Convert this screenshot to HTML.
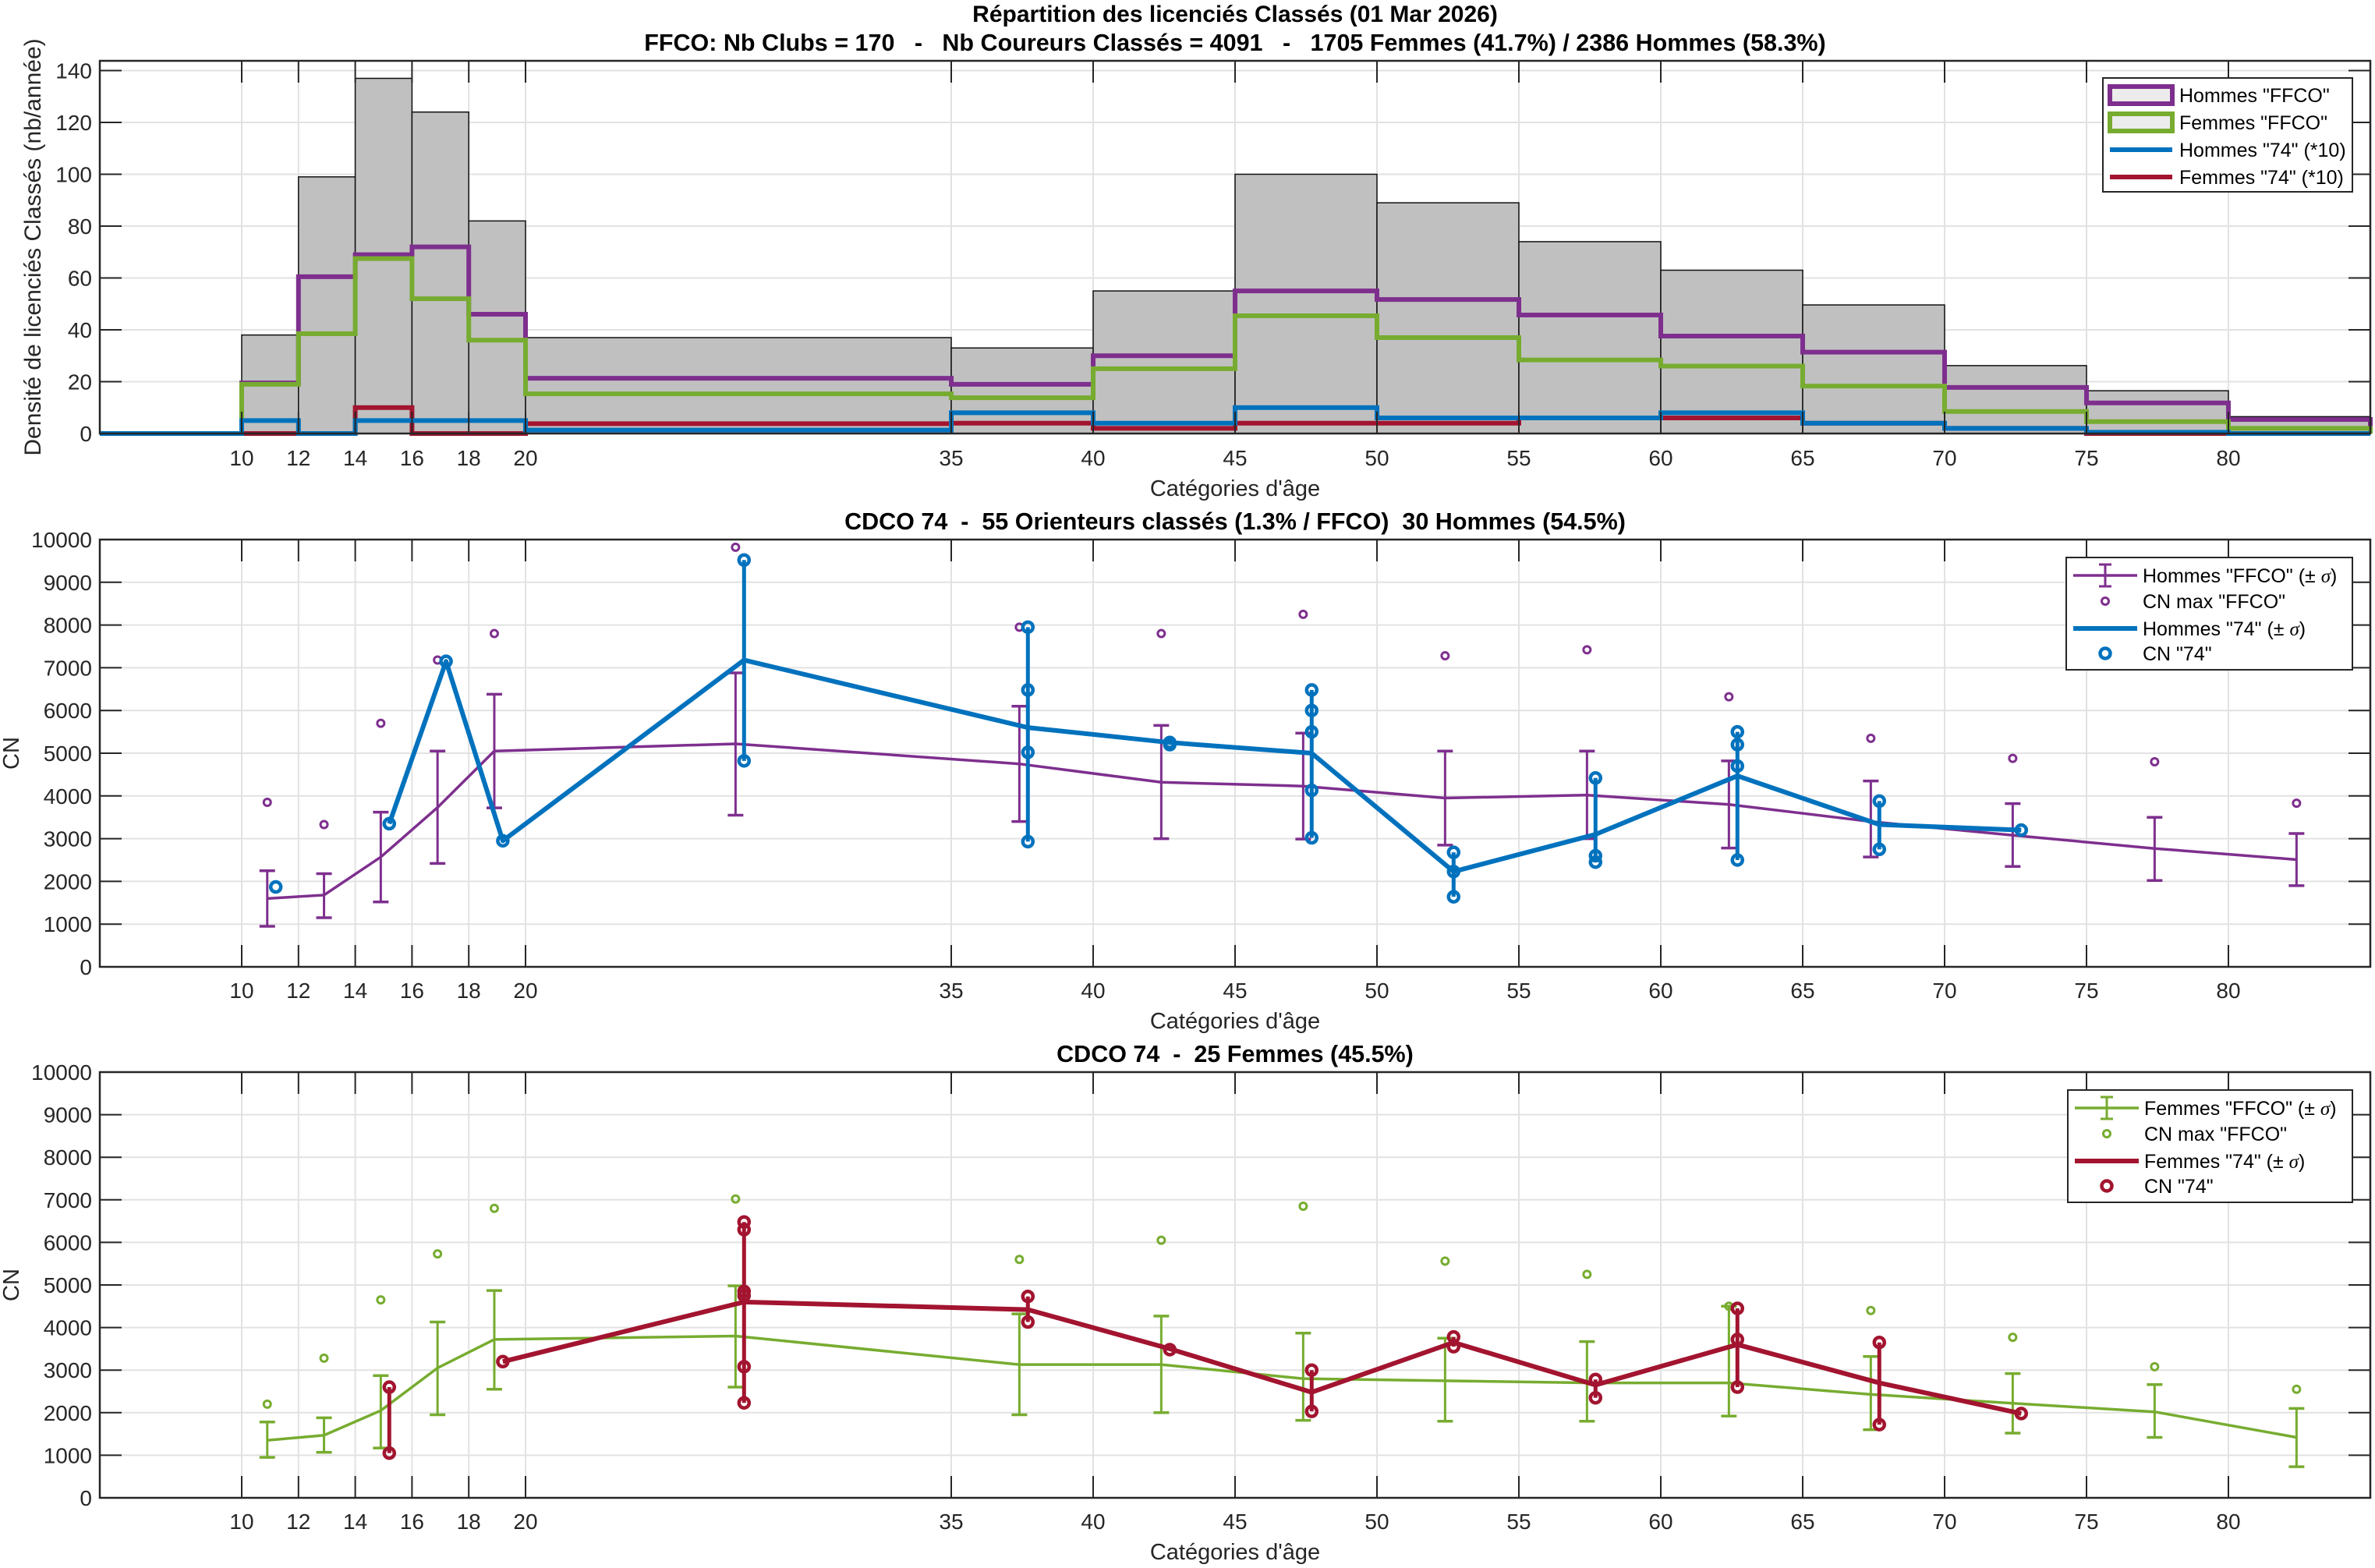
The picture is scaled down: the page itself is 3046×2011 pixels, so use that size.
<!DOCTYPE html>
<html><head><meta charset="utf-8">
<style>
html,body{margin:0;padding:0;background:#fff;}
svg{display:block;font-family:"Liberation Sans",sans-serif;}
</style></head>
<body>
<svg id="s" width="3046" height="2011" viewBox="0 0 3046 2011" xmlns="http://www.w3.org/2000/svg"></svg>
<script>
const S=document.getElementById('s');
let out='';
const L=128,R=3040;
const X=a=>L+(a-5)*36.4;
const P='#7E2F8E',G='#77AC30',B='#0072BD',RD='#A2142F';
const xt=[10,12,14,16,18,20,35,40,45,50,55,60,65,70,75,80];
function axes(T,Bt,yt,yf){
  xt.forEach(a=>{out+=`<line x1="${X(a)}" y1="${T}" x2="${X(a)}" y2="${Bt}" stroke="#e2e2e2" stroke-width="2"/>`;});
  yt.forEach(v=>{out+=`<line x1="${L}" y1="${yf(v)}" x2="${R}" y2="${yf(v)}" stroke="#e2e2e2" stroke-width="2"/>`;});
}
function frame(T,Bt,yt,yf,labY,xlabY){
  xt.forEach(a=>{const x=X(a);out+=`<line x1="${x}" y1="${T}" x2="${x}" y2="${T+28}" stroke="#262626" stroke-width="2"/><line x1="${x}" y1="${Bt}" x2="${x}" y2="${Bt-28}" stroke="#262626" stroke-width="2"/>`;
    out+=`<text x="${x}" y="${labY}" font-size="28" text-anchor="middle" fill="#262626">${a}</text>`;});
  yt.forEach(v=>{const y=yf(v);out+=`<line x1="${L}" y1="${y}" x2="${L+28}" y2="${y}" stroke="#262626" stroke-width="2"/><line x1="${R}" y1="${y}" x2="${R-28}" y2="${y}" stroke="#262626" stroke-width="2"/>`;
    out+=`<text x="118" y="${y+10}" font-size="28" text-anchor="end" fill="#262626">${v}</text>`;});
  out+=`<rect x="${L}" y="${T}" width="${R-L}" height="${Bt-T}" fill="none" stroke="#262626" stroke-width="2.5"/>`;
  out+=`<text x="1584" y="${xlabY}" font-size="29" text-anchor="middle" fill="#262626">Catégories d'âge</text>`;
}
// ---------- Panel 1 ----------
const T1=78,B1=556,Y1=v=>B1-v*3.325;
const yt1=[0,20,40,60,80,100,120,140];
axes(T1,B1,yt1,Y1);
const E=[5,10,12,14,16,18,20,35,40,45,50,55,60,65,70,75,80,85];
const grey=[0,38,99,137,124,82,37,33,55,100,89,74,63,49.6,26.2,16.5,6.5];
for(let i=1;i<grey.length;i++){out+=`<rect x="${X(E[i])}" y="${Y1(grey[i])}" width="${X(E[i+1])-X(E[i])}" height="${grey[i]*3.325}" fill="#c0c0c0" stroke="#111" stroke-width="1.5"/>`;}
function stairs(v,c,w){let d=`M${X(E[0])},${Y1(v[0])}`;for(let i=0;i<v.length;i++){d+=` V${Y1(v[i])} H${X(E[i+1])}`;}d+=` V${Y1(0)}`;out+=`<path d="${d}" fill="none" stroke="${c}" stroke-width="${w}"/>`;}
stairs([0,19.5,60.5,69,72,46,21.3,19,30,55,51.7,45.7,37.6,31.4,17.8,11.8,5.4],P,6);
stairs([0,19,38.5,67.5,52,36,15.3,13.8,25,45.4,37,28.4,26,18.3,8.5,4.6,2],G,6);
stairs([0,0,0,10,0,0,3.8,4,2,4,4,6,6,4,2,0,0],RD,6);
stairs([0,5,0,5,5,5,1.3,8,4,10,6,6,8,4,2,0.5,0],B,6);
frame(T1,B1,yt1,Y1,597,636);
out+=`<text x="0" y="0" transform="translate(52,317) rotate(-90)" font-size="30" text-anchor="middle" fill="#262626">Densité de licenciés Classés (nb/année)</text>`;
out+=`<rect x="2697" y="100" width="320" height="146" fill="#fff" stroke="#262626" stroke-width="2"/>`;
[[P,'Hommes "FFCO"',1],[G,'Femmes "FFCO"',1],[B,'Hommes "74" (*10)',0],[RD,'Femmes "74" (*10)',0]].forEach((e,i)=>{const y=122+i*35;
 if(e[2])out+=`<rect x="2706" y="${y-11}" width="80" height="22" fill="#c0c0c0" fill-opacity="0.3" stroke="${e[0]}" stroke-width="6"/>`;
 else out+=`<line x1="2706" y1="${y}" x2="2786" y2="${y}" stroke="${e[0]}" stroke-width="6"/>`;
 out+=`<text x="2795" y="${y+9}" font-size="25" fill="#000">${e[1]}</text>`;});
out+=`<text x="1584" y="28" font-size="30" font-weight="bold" text-anchor="middle" fill="#000">Répartition des licenciés Classés (01 Mar 2026)</text>`;
out+=`<text x="1584" y="65" font-size="30.5" font-weight="bold" text-anchor="middle" fill="#000" xml:space="preserve">FFCO: Nb Clubs = 170   -   Nb Coureurs Classés = 4091   -   1705 Femmes (41.7%) / 2386 Hommes (58.3%)</text>`;

// ---------- CN panels ----------
const ages=[11,13,15,17,19,27.5,37.5,42.5,47.5,52.5,57.5,62.5,67.5,72.5,77.5,82.5];
const ytc=[0,1000,2000,3000,4000,5000,6000,7000,8000,9000,10000];
function cnPanel(T,Bt,ff,col,loc,col2,title,labY,xlabY,leg,names){
  const Y=v=>Bt-v*(Bt-T)/10000;
  axes(T,Bt,ytc,Y);
  let d='';ff.forEach((p,i)=>{d+=(i?' L':'M')+X(ages[i]-0.1)+','+Y(p[0]);});
  out+=`<path d="${d}" fill="none" stroke="${col}" stroke-width="3.5"/>`;
  ff.forEach((p,i)=>{const x=X(ages[i]-0.1);out+=`<line x1="${x}" y1="${Y(p[1])}" x2="${x}" y2="${Y(p[2])}" stroke="${col}" stroke-width="3"/><line x1="${x-10}" y1="${Y(p[1])}" x2="${x+10}" y2="${Y(p[1])}" stroke="${col}" stroke-width="3.5"/><line x1="${x-10}" y1="${Y(p[2])}" x2="${x+10}" y2="${Y(p[2])}" stroke="${col}" stroke-width="3.5"/>`;
   out+=`<circle cx="${x}" cy="${Y(p[3])}" r="4.5" fill="none" stroke="${col}" stroke-width="3"/>`;});
  let d2='';loc.line.forEach((p,i)=>{d2+=(i?' L':'M')+X(p[0])+','+Y(p[1]);});
  out+=`<path d="${d2}" fill="none" stroke="${col2}" stroke-width="6" stroke-linejoin="round"/>`;
  loc.pts.forEach(p=>{const x=X(p[0]);const ys=p[1];if(ys.length>1){out+=`<line x1="${x}" y1="${Y(Math.min(...ys))}" x2="${x}" y2="${Y(Math.max(...ys))}" stroke="${col2}" stroke-width="5"/>`;}
   ys.forEach(v=>{out+=`<circle cx="${x}" cy="${Y(v)}" r="6.5" fill="none" stroke="${col2}" stroke-width="4.5"/>`;});});
  frame(T,Bt,ytc,Y,labY,xlabY);
  out+=`<text x="0" y="0" transform="translate(24,${(T+Bt)/2}) rotate(-90)" font-size="29" text-anchor="middle" fill="#262626">CN</text>`;
  out+=`<text x="1584" y="${T-13}" font-size="30.5" font-weight="bold" text-anchor="middle" fill="#000" xml:space="preserve">${title}</text>`;
  const lx=leg.x,ly=leg.y,lw=3017-lx;
  out+=`<rect x="${lx}" y="${ly}" width="${lw}" height="144" fill="#fff" stroke="#262626" stroke-width="2"/>`;
  const sx=lx+9,ex=lx+91,cx=lx+50,tx=lx+98;
  const rows=[ly+23,ly+56,ly+91,ly+123];
  out+=`<line x1="${sx}" y1="${rows[0]}" x2="${ex}" y2="${rows[0]}" stroke="${col}" stroke-width="3.5"/><line x1="${cx}" y1="${rows[0]-14}" x2="${cx}" y2="${rows[0]+14}" stroke="${col}" stroke-width="3"/><line x1="${cx-8}" y1="${rows[0]-14}" x2="${cx+8}" y2="${rows[0]-14}" stroke="${col}" stroke-width="3"/><line x1="${cx-8}" y1="${rows[0]+14}" x2="${cx+8}" y2="${rows[0]+14}" stroke="${col}" stroke-width="3"/>`;
  out+=`<circle cx="${cx}" cy="${rows[1]}" r="4.5" fill="none" stroke="${col}" stroke-width="3"/>`;
  out+=`<line x1="${sx}" y1="${rows[2]}" x2="${ex}" y2="${rows[2]}" stroke="${col2}" stroke-width="6"/>`;
  out+=`<circle cx="${cx}" cy="${rows[3]}" r="6.5" fill="none" stroke="${col2}" stroke-width="4.5"/>`;
  names.forEach((n,i)=>{out+=`<text x="${tx}" y="${rows[i]+9}" font-size="25" fill="#000">${n}</text>`;});
}
const ffH=[[1600,950,2250,3850],[1680,1150,2180,3330],[2570,1520,3620,5700],[3730,2420,5050,7180],[5050,3720,6380,7800],[5220,3550,6880,9820],[4750,3400,6100,7950],[4320,3000,5650,7800],[4230,2990,5470,8250],[3950,2850,5050,7280],[4020,3000,5050,7420],[3800,2780,4820,6320],[3400,2570,4350,5350],[3080,2350,3820,4880],[2770,2020,3500,4800],[2510,1900,3120,3830]];
const locH={line:[[15.2,3350],[17.2,7150],[19.2,2950],[27.7,7180],[37.7,5600],[42.7,5250],[47.7,5000],[52.7,2230],[57.7,3100],[62.7,4470],[67.7,3330],[72.7,3200]],
 pts:[[11.2,[1870]],[15.2,[3350]],[17.2,[7150]],[19.2,[2950]],[27.7,[9520,4820]],[37.7,[7950,6480,5020,2930]],[42.7,[5250,5200]],[47.7,[6480,6000,5500,4130,3020]],[52.7,[2680,2230,1640]],[57.7,[4420,2600,2450]],[62.7,[5500,5200,4700,2500]],[67.7,[3880,2750]],[72.7,[3200]]]};
cnPanel(692,1240,ffH,P,locH,B,'CDCO 74  -  55 Orienteurs classés (1.3% / FFCO)  30 Hommes (54.5%)',1280,1319,{x:2650,y:715},['Hommes "FFCO" (± <tspan font-style="italic" font-family="Liberation Serif">σ</tspan>)','CN max "FFCO"','Hommes "74" (± <tspan font-style="italic" font-family="Liberation Serif">σ</tspan>)','CN "74"']);
const ffF=[[1350,950,1780,2200],[1470,1070,1880,3280],[2050,1170,2870,4650],[3050,1950,4130,5730],[3720,2550,4870,6800],[3800,2600,4980,7020],[3130,1950,4320,5600],[3130,2000,4270,6050],[2800,1820,3870,6850],[2750,1800,3750,5560],[2700,1800,3670,5250],[2700,1920,4500,4500],[2430,1600,3320,4400],[2220,1520,2920,3770],[2020,1420,2660,3080],[1420,730,2100,2550]];
const locF={line:[[19.2,3200],[27.7,4600],[37.7,4420],[42.7,3500],[47.7,2480],[52.7,3650],[57.7,2650],[62.7,3600],[67.7,2700],[72.7,1980]],
 pts:[[15.2,[2600,1050]],[19.2,[3200]],[27.7,[6480,6300,4850,4750,3080,2230]],[37.7,[4730,4130]],[42.7,[3480]],[47.7,[3000,2030]],[52.7,[3780,3550]],[57.7,[2780,2350]],[62.7,[4450,3720,2600]],[67.7,[3650,1720]],[72.7,[1980]]]};
cnPanel(1375,1921,ffF,G,locF,RD,'CDCO 74  -  25 Femmes (45.5%)',1961,2000,{x:2652,y:1398},['Femmes "FFCO" (± <tspan font-style="italic" font-family="Liberation Serif">σ</tspan>)','CN max "FFCO"','Femmes "74" (± <tspan font-style="italic" font-family="Liberation Serif">σ</tspan>)','CN "74"']);
S.innerHTML=out;
</script>
</body></html>
